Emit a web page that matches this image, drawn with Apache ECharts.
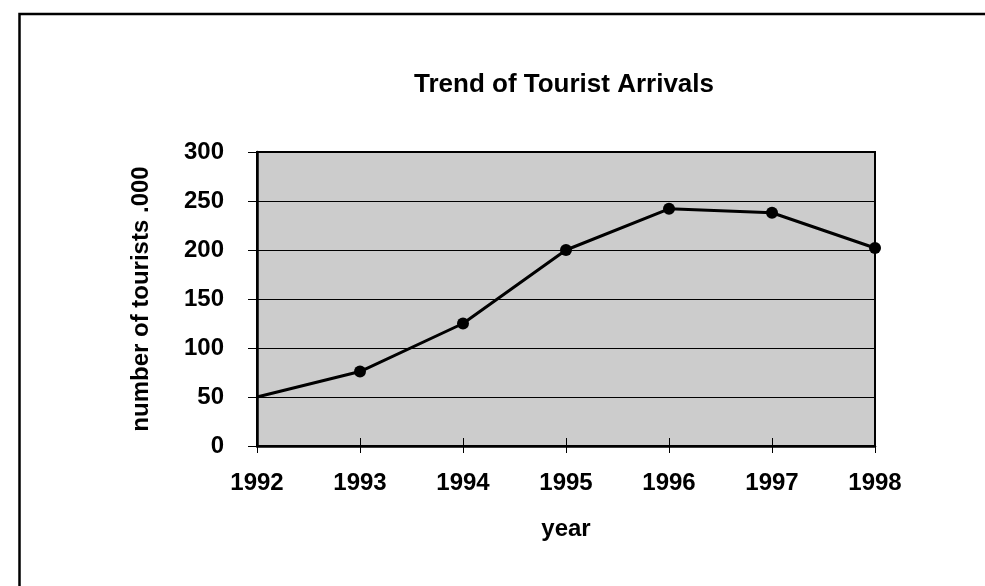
<!DOCTYPE html>
<html><head><meta charset="utf-8">
<script src="https://cdn.jsdelivr.net/npm/echarts@6/dist/echarts.min.js"></script>
<style>html,body{margin:0;padding:0;background:#fff}#c{width:985px;height:586px}</style>
</head><body><div id="c"></div>
<script>
const years = ['1992','1993','1994','1995','1996','1997','1998'];
const tourists = [50, 76, 125, 200, 242, 238, 202];
const yTicks = {min:0, max:300, interval:50};
const FONT = '"Liberation Sans", Arial, sans-serif';
const chart = echarts.init(document.getElementById('c'));
const seriesData = tourists.map((v,i)=> i===0 ? {value:v, symbol:'none'} : v);
chart.setOption({
  animation:false,
  backgroundColor:'#fff',
  title:{text:'Trend of Tourist Arrivals', left:559, top:67, textAlign:'center',
    textStyle:{fontFamily:FONT, fontWeight:'bold', fontSize:26, color:'#000'}},
  graphic:[{type:'rect', shape:{x:19.5,y:14,width:1000,height:600}, style:{fill:'none', stroke:'#000', lineWidth:2.5}}],
  grid:{left:257, top:152, width:618, height:294, show:true, backgroundColor:'#cccccc', borderColor:'#000', borderWidth:2},
  xAxis:[{type:'category', data:years, boundaryGap:false,
    name:'year', nameLocation:'middle', nameGap:71,
    nameTextStyle:{fontFamily:FONT, fontWeight:'bold', fontSize:24, color:'#000'},
    axisLine:{lineStyle:{color:'#000', width:2.5}},
    axisTick:{show:true, inside:false, length:7, lineStyle:{color:'#000', width:1}},
    axisLabel:{fontFamily:FONT, fontWeight:'bold', fontSize:24, color:'#000', margin:25},
    splitLine:{show:false}},
   {type:'category', data:years, boundaryGap:false, position:'bottom',
    axisLine:{show:false}, axisTick:{show:true, inside:true, length:8, lineStyle:{color:'#000', width:1}},
    axisLabel:{show:false}, splitLine:{show:false}}],
  yAxis:{type:'value', min:yTicks.min, max:yTicks.max, interval:yTicks.interval,
    name:'number of tourists .000', nameLocation:'middle', nameGap:104, nameRotate:90,
    nameTextStyle:{fontFamily:FONT, fontWeight:'bold', fontSize:24, color:'#000'},
    axisLine:{show:true, lineStyle:{color:'#000', width:2.5}},
    axisTick:{show:true, inside:false, length:9, lineStyle:{color:'#000', width:1}},
    axisLabel:{fontFamily:FONT, fontWeight:'bold', fontSize:24, color:'#000', margin:33},
    splitLine:{show:true, lineStyle:{color:'#000', width:1}}},
  series:[{type:'line', data:seriesData, symbol:'circle', symbolSize:12,
    lineStyle:{color:'#000', width:3}, itemStyle:{color:'#000'}}]
});
</script></body></html>
